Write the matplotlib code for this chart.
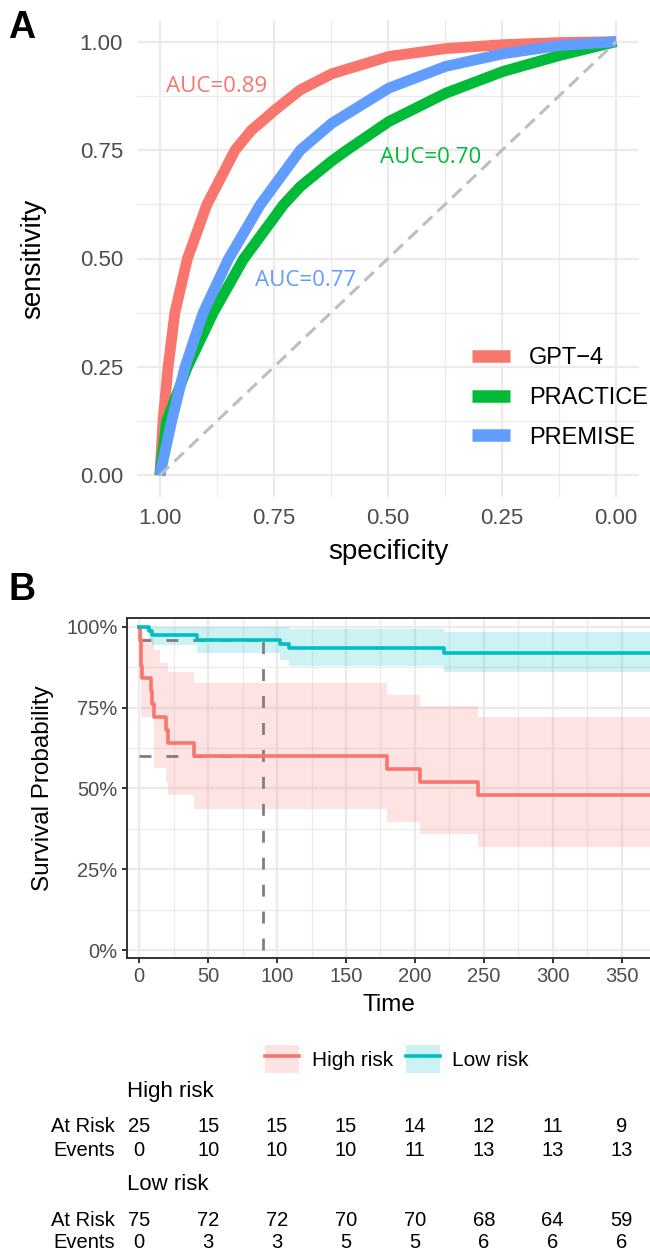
import matplotlib
matplotlib.use("Agg")
import matplotlib.pyplot as plt
import matplotlib.transforms as mtransforms
from matplotlib.patches import Patch
from matplotlib.lines import Line2D

plt.rcParams['font.family'] = ['Liberation Sans', 'DejaVu Sans']

# ---------------- Panel A data (ROC) ----------------
roc_models = ["GPT\u22124", "PRACTICE", "PREMISE"]
roc_colors = ["#F8766D", "#00BA38", "#619CFF"]
gpt4_spec = [1.0, 0.993, 0.982, 0.967, 0.94, 0.897, 0.835, 0.80, 0.747, 0.692, 0.623, 0.498, 0.374, 0.249, 0.125, 0.0]
gpt4_sens = [0.0, 0.125, 0.249, 0.375, 0.498, 0.624, 0.75, 0.795, 0.843, 0.889, 0.926, 0.966, 0.984, 0.993, 0.998, 1.0]
practice_spec = [1.0, 0.985, 0.94, 0.883, 0.817, 0.729, 0.692, 0.623, 0.59, 0.498, 0.374, 0.249, 0.125, 0.0]
practice_sens = [0.0, 0.125, 0.249, 0.375, 0.498, 0.624, 0.666, 0.725, 0.75, 0.816, 0.881, 0.931, 0.968, 1.0]
premise_spec = [1.0, 0.974, 0.945, 0.905, 0.85, 0.78, 0.692, 0.623, 0.498, 0.374, 0.249, 0.125, 0.0]
premise_sens = [0.0, 0.125, 0.249, 0.375, 0.498, 0.624, 0.75, 0.812, 0.893, 0.943, 0.972, 0.991, 1.0]
auc_labels = ["AUC=0.89", "AUC=0.70", "AUC=0.77"]
auc_pos = [(0.875, 0.896), (0.407, 0.734), (0.681, 0.45)]
roc_ticks = [0.0, 0.25, 0.5, 0.75, 1.0]

# ---------------- Panel B data (KM) ----------------
groups = ["High risk", "Low risk"]
km_colors = ["#F8766D", "#00BFC4"]
follow_up_end = 372
hi_t = [0, 0.5, 1, 1.5, 2, 8.5, 9.5, 10.5, 19.5, 21, 39.5, 180, 204, 246]
hi_s = [1.0, 0.96, 0.92, 0.88, 0.84, 0.80, 0.76, 0.72, 0.68, 0.64, 0.60, 0.56, 0.52, 0.48]
hi_ci_t = [0, 1, 2.4, 11, 15, 19.7, 21, 39.6, 180, 204, 246]
hi_ci_lo = [0.84, 0.722, 0.722, 0.563, 0.563, 0.52, 0.48, 0.435, 0.397, 0.358, 0.32]
hi_ci_hi = [1.0, 1.0, 0.964, 0.928, 0.887, 0.887, 0.861, 0.825, 0.79, 0.756, 0.72]
lo_t = [0, 6.8, 9.2, 41.9, 102.4, 108.5, 221]
lo_s = [1.0, 0.987, 0.973, 0.96, 0.947, 0.933, 0.92]
lo_ci_t = [0, 6.8, 9.2, 41.9, 102.4, 108.5, 221]
lo_ci_lo = [1.0, 0.962, 0.945, 0.918, 0.897, 0.879, 0.861]
lo_ci_hi = [1.0, 1.0, 1.0, 1.0, 1.0, 0.992, 0.984]
landmark_t = 90
landmark_s = [0.60, 0.96]
km_xticks = [0, 50, 100, 150, 200, 250, 300, 350]
km_yticks = [0, 0.25, 0.5, 0.75, 1.0]
km_ylabels = ["0%", "25%", "50%", "75%", "100%"]
table_times = [0, 50, 100, 150, 200, 250, 300, 350]
hi_at_risk = [25, 15, 15, 15, 14, 12, 11, 9]
hi_events = [0, 10, 10, 10, 11, 13, 13, 13]
lo_at_risk = [75, 72, 72, 70, 70, 68, 64, 59]
lo_events = [0, 3, 3, 5, 5, 6, 6, 6]

W, H = 650, 1253
fig = plt.figure(figsize=(W / 100, H / 100), dpi=100)

def fx(px):
    return px / W

def fy(py):
    return 1 - py / H

# ================= Panel A =================
axA = fig.add_axes([fx(137), fy(497), fx(639) - fx(137), fy(20) - fy(497)])
axA.set_xlim(1.05, -0.05)
axA.set_ylim(-0.05, 1.05)
for s in axA.spines.values():
    s.set_visible(False)
axA.set_xticks(roc_ticks)
axA.set_yticks(roc_ticks)
axA.set_xticklabels([f"{v:.2f}" for v in roc_ticks])
axA.set_yticklabels([f"{v:.2f}" for v in roc_ticks])
axA.set_xticks([0.125, 0.375, 0.625, 0.875], minor=True)
axA.set_yticks([0.125, 0.375, 0.625, 0.875], minor=True)
axA.grid(True, which='major', color='#EBEBEB', lw=1.6)
axA.grid(True, which='minor', color='#EBEBEB', lw=0.9)
axA.set_axisbelow(True)
axA.tick_params(which='both', length=0)
axA.tick_params(axis='x', pad=8, labelsize=16, labelcolor='#4D4D4D')
axA.tick_params(axis='y', pad=10, labelsize=16, labelcolor='#4D4D4D')

roc_spec = [gpt4_spec, practice_spec, premise_spec]
roc_sens = [gpt4_sens, practice_sens, premise_sens]
for name, col, sp, se in zip(roc_models, roc_colors, roc_spec, roc_sens):
    axA.plot(sp, se, color=col, lw=7.8, solid_capstyle='butt', solid_joinstyle='round', label=name)
axA.plot([1, 0], [0, 1], color='#BEBEBE', lw=2.2, dashes=(4.2, 2.4))
for lab, col, (xx, yy) in zip(auc_labels, roc_colors, auc_pos):
    axA.text(xx, yy, lab, color=col, fontsize=16, ha='center', va='center',
             family=['Open Sans', 'DejaVu Sans'])

axA.set_xlabel("specificity", fontsize=20, va='center')
axA.xaxis.set_label_coords(0.5, (497 - 552) / 477)
axA.set_ylabel("sensitivity", fontsize=20, va='center')
axA.yaxis.set_label_coords((33 - 137) / 502, 0.5)

legA = axA.legend(loc='center left', bbox_to_anchor=((472 - 137) / 502, (497 - 398) / 477),
                  frameon=False, fontsize=17, handlelength=1.6, handletextpad=0.8,
                  labelspacing=0.75, borderpad=0, borderaxespad=0)
for h in legA.get_lines():
    h.set_linewidth(9)

fig.text(fx(22), fy(28), "A", fontsize=27, fontweight='bold', ha='center', va='center')

# ================= Panel B =================
axB = fig.add_axes([fx(127), fy(958), 1 - fx(127), fy(618) - fy(958)])
axB.set_xlim((127 - 139.3) / 1.378, (650 - 139.3) / 1.378)
axB.set_ylim(-0.0247, 1.027)
axB.set_xticks(km_xticks)
axB.set_xticks([25, 75, 125, 175, 225, 275, 325], minor=True)
axB.set_yticks(km_yticks)
axB.set_yticklabels(km_ylabels)
axB.set_yticks([0.125, 0.375, 0.625, 0.875], minor=True)
axB.grid(True, which='major', color='#EBEBEB', lw=1.6)
axB.grid(True, which='minor', color='#EBEBEB', lw=0.9)
axB.set_axisbelow(True)
for k in ['left', 'bottom', 'top']:
    axB.spines[k].set_color('#333333')
    axB.spines[k].set_linewidth(1.4)
axB.spines['right'].set_visible(False)
axB.tick_params(which='major', length=3.8, width=1.4, color='#333333', labelsize=14.5,
                labelcolor='#4D4D4D', pad=3)
axB.tick_params(which='minor', length=0)

def ext(t, v):
    return list(t) + [follow_up_end], list(v) + [v[-1]]

# CI bands
for tt, lo, hi, col in [(hi_ci_t, hi_ci_lo, hi_ci_hi, km_colors[0]),
                        (lo_ci_t, lo_ci_lo, lo_ci_hi, km_colors[1])]:
    t2, lo2 = ext(tt, lo)
    _, hi2 = ext(tt, hi)
    axB.fill_between(t2, lo2, hi2, step='post', color=col, alpha=0.2, lw=0)

# landmark dashed lines
dash_kw = dict(color='#7F7F7F', lw=2.0, dashes=(4.3, 5.4))
axB.plot([0, landmark_t], [landmark_s[0], landmark_s[0]], **dash_kw)
axB.plot([0, landmark_t], [landmark_s[1], landmark_s[1]], **dash_kw)
axB.plot([landmark_t, landmark_t], [0, landmark_s[1]], **dash_kw)

for tt, ss, col in [(hi_t, hi_s, km_colors[0]), (lo_t, lo_s, km_colors[1])]:
    t2, s2 = ext(tt, ss)
    axB.step(t2, s2, where='post', color=col, lw=2.6)

axB.set_xlabel("Time", fontsize=17.5, va='center')
axB.xaxis.set_label_coords(0.5, (958 - 1005) / 340)
axB.set_ylabel("Survival Probability", fontsize=17.5, va='center')
axB.yaxis.set_label_coords((43 - 127) / 523, 0.5)

fig.text(fx(22), fy(590), "B", fontsize=27, fontweight='bold', ha='center', va='center')

# legend B
handles = []
for col in km_colors:
    handles.append((Patch(facecolor=col, alpha=0.2, edgecolor='none'),
                    Line2D([], [], color=col, lw=2.6)))
fig.legend(handles, groups, loc='center left', bbox_to_anchor=(fx(265), fy(1059)), ncol=2,
           frameon=False, fontsize=15, handlelength=1.65, handleheight=1.65,
           handletextpad=0.6, columnspacing=0.6, borderpad=0, borderaxespad=0)

# risk table
tr = mtransforms.blended_transform_factory(axB.transData, fig.transFigure)
tfs = 14.5
fig.text(fx(127), fy(1092), groups[0], fontsize=16, ha='left', va='center')
fig.text(fx(127), fy(1185), groups[1], fontsize=16, ha='left', va='center')
for row_y, lab in [(1127, "At Risk"), (1151, "Events"), (1220, "At Risk"), (1243, "Events")]:
    fig.text(fx(115), fy(row_y), lab, fontsize=tfs, ha='right', va='center')
for vals, row_y in [(hi_at_risk, 1127), (hi_events, 1151), (lo_at_risk, 1220), (lo_events, 1243)]:
    for t, v in zip(table_times, vals):
        axB.text(t, fy(row_y), str(v), transform=tr, fontsize=tfs, ha='center', va='center',
                 clip_on=False)

fig.savefig("out.png", dpi=100)
